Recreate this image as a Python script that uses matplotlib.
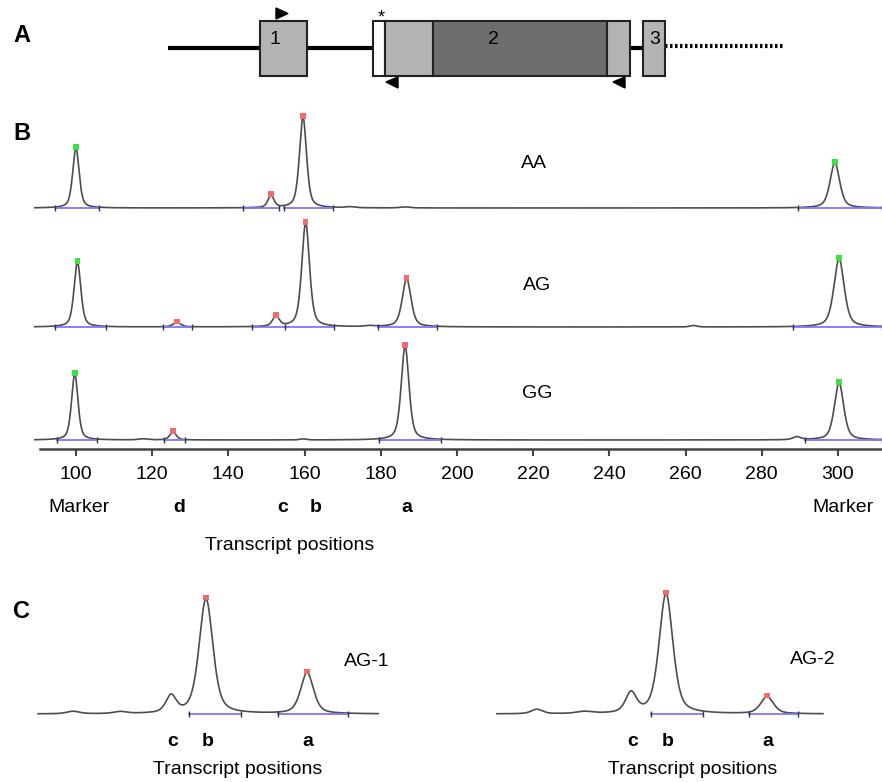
import numpy as np
import matplotlib
matplotlib.use('Agg')
import matplotlib.pyplot as plt
import matplotlib.transforms as mtrans
from matplotlib.patches import Rectangle, Polygon

plt.rcParams['font.family'] = ['Liberation Sans', 'DejaVu Sans']

W, H = 882, 782

# ---- panel A: gene model (diagram units) ----
intron_segments = [(168, 373), (630, 643)]
exon_starts = [260, 373, 385, 433, 607, 643]
exon_ends = [307, 385, 433, 607, 630, 665]
exon_fills = ['#b4b4b4', 'white', '#b4b4b4', '#6e6e6e', '#b4b4b4', '#b4b4b4']
exon_label_x = [275, 493, 655]
exon_label_text = ['1', '2', '3']
utr_dotted = (665, 783)
primer_fwd_x = [276]
primer_rev_x = [398, 625]
snp_x = 381

# ---- panel B: electropherograms, size in transcript positions ----
size_ticks = [100, 120, 140, 160, 180, 200, 220, 240, 260, 280, 300]

aa_pos = [100.0, 151.2, 159.6, 171.9, 186.4, 299.2]
aa_height = [60, 12, 91, 1, 1, 45]
aa_width = [2.0, 1.9, 2.2, 3.0, 3.0, 3.0]
aa_call = ['m', 's', 's', '', '', 'm']
aa_windows = [(94.5, 106.0), (143.8, 153.3), (154.6, 167.5), (289.5, 311.5)]

ag_pos = [100.4, 126.5, 152.5, 160.3, 177.0, 186.8, 262.0, 300.3]
ag_height = [65, 4.5, 10, 104, 1, 48, 1.5, 68]
ag_width = [2.1, 2.4, 2.1, 2.4, 3.0, 2.7, 2.0, 3.2]
ag_call = ['m', 's', 's', 's', '', 's', '', 'm']
ag_windows = [(94.5, 107.9), (122.8, 130.4), (146.2, 154.9), (154.9, 167.7),
              (179.3, 194.8), (288.2, 311.5)]

gg_pos = [99.7, 117.6, 125.5, 159.6, 186.4, 289.2, 300.3]
gg_height = [66, 1, 8, 1, 94, 3, 57]
gg_width = [2.0, 3.0, 2.0, 2.0, 2.4, 2.4, 2.9]
gg_call = ['m', '', 's', '', 's', '', 'm']
gg_windows = [(95.0, 105.5), (123.1, 128.6), (179.5, 195.8), (291.3, 311.5)]

b_letters = ['Marker', 'd', 'c', 'b', 'a', 'Marker']
b_letter_x = [100.8, 127.0, 154.3, 163.0, 186.9, 301.3]
b_letter_bold = [False, True, True, True, True, False]

# ---- panel C: two AG samples ----
c1_pos = [125.0, 137.4, 150.8, 160.0, 186.6]
c1_height = [2.5, 2, 17, 115, 41]
c1_width = [4.0, 4.0, 3.2, 4.3, 4.0]
c1_call = ['', '', '', 's', 's']
c1_windows = [(155.5, 169.2), (178.9, 197.4)]
c1_range = (115.8, 205.3)

c2_pos = [126.0, 138.5, 150.8, 160.0, 186.6]
c2_height = [4.5, 2, 20, 120, 17]
c2_width = [3.5, 5.0, 3.4, 4.3, 4.0]
c2_call = ['', '', '', 's', 's']
c2_windows = [(156.1, 169.7), (181.8, 194.7)]
c2_range = (115.5, 201.3)

c_letters = ['c', 'b', 'a']
c_letter_x = [151.3, 160.5, 186.8]

TRACE = '#4d4d4d'
BLUE = '#7878ff'
DOT = {'m': '#3fe03f', 's': '#f26a6a'}


def peaks(x, pos, height, width):
    y = np.zeros_like(x)
    for p, h, w in zip(pos, height, width):
        d = (x - p) / w
        y += h * (0.5 * np.exp(-4 * np.log(2) * d ** 2) + 0.5 / (1 + 4 * d ** 2))
    return y


def draw_trace(ax, x, base, pos, height, width, call, windows):
    y = peaks(x, pos, height, width)
    ax.plot(x, base + y, color=TRACE, lw=1.2, zorder=2)
    for a, b in windows:
        ax.plot([a, b], [base, base], color=BLUE, lw=1.3, zorder=3)
    ends = sorted(set([w for pair in windows for w in pair]))
    ax.vlines(ends, base - 3, base + 3, color='#333333', lw=1.0, zorder=4)
    for p, c in zip(pos, call):
        if c:
            top = base + peaks(np.array([p]), pos, height, width)[0]
            ax.scatter([p], [top + 1], marker='s', s=16, color=DOT[c],
                       edgecolors='none', zorder=5)


def px_axes(fig, x0, y0, x1, y1):
    return fig.add_axes([x0 / W, 1 - y1 / H, (x1 - x0) / W, (y1 - y0) / H])


def fxy(px, py):
    return px / W, 1 - py / H


fig = plt.figure(figsize=(W / 100, H / 100), dpi=100)

# panel A
axa = px_axes(fig, 0, 0, W, 100)
axa.set_xlim(0, W)
axa.set_ylim(100, 0)
axa.axis('off')
for a, b in intron_segments:
    axa.plot([a, b], [48, 48], color='black', lw=3, solid_capstyle='butt', zorder=1)
axa.plot(utr_dotted, [46, 46], color='black', lw=3, linestyle=(0, (0.6, 0.6)), zorder=1)
for s, e, f in zip(exon_starts, exon_ends, exon_fills):
    axa.add_patch(Rectangle((s, 21), e - s, 55, facecolor=f, edgecolor='#222222',
                            lw=1.5, zorder=2))
for x, t in zip(exon_label_x, exon_label_text):
    axa.text(x, 39, t, ha='center', va='center', fontsize=14, zorder=3)
for x in primer_fwd_x:
    axa.add_patch(Polygon([(x, 8), (x, 19), (x + 12, 13.5)], closed=True,
                          color='black', zorder=3))
for x in primer_rev_x:
    axa.add_patch(Polygon([(x, 77), (x, 88), (x - 12, 82)], closed=True,
                          color='black', zorder=3))
axa.text(snp_x, 18, '*', ha='center', va='center', fontsize=13)

# panel B
axb = px_axes(fig, 34, 105, W, 449)
xmin = 89.0
xmax = xmin + 848 / 3.81
axb.set_xlim(xmin, xmax)
axb.set_ylim(-9, 335)
xb = np.linspace(xmin, xmax, 4000)
draw_trace(axb, xb, 232, aa_pos, aa_height, aa_width, aa_call, aa_windows)
draw_trace(axb, xb, 113, ag_pos, ag_height, ag_width, ag_call, ag_windows)
draw_trace(axb, xb, 0, gg_pos, gg_height, gg_width, gg_call, gg_windows)
for side in ['top', 'right', 'left']:
    axb.spines[side].set_visible(False)
axb.spines['bottom'].set_color('#444444')
axb.spines['bottom'].set_linewidth(1.8)
axb.spines['bottom'].set_bounds(90.5, xmax)
axb.set_yticks([])
axb.set_xticks(size_ticks)
axb.tick_params(axis='x', length=5, width=1.5, color='#444444', labelsize=14, pad=7)

tb = mtrans.blended_transform_factory(axb.transData, fig.transFigure)
for t, x, bold in zip(b_letters, b_letter_x, b_letter_bold):
    axb.text(x, 1 - 508 / H, t, transform=tb, ha='center', va='center',
             fontsize=14, fontweight='bold' if bold else 'normal')
fig.text(*fxy(290, 546), 'Transcript positions', ha='center', va='center', fontsize=14)
fig.text(*fxy(534, 163), 'AA', ha='center', va='center', fontsize=14)
fig.text(*fxy(537, 285), 'AG', ha='center', va='center', fontsize=14)
fig.text(*fxy(537, 393), 'GG', ha='center', va='center', fontsize=14)

# panel C
for (x0, x1), rng, pos, hgt, wid, call, win, name, name_xy, title_x in [
        ((30, 390), c1_range, c1_pos, c1_height, c1_width, c1_call, c1_windows,
         'AG-1', (367, 662), 238),
        ((490, 830), c2_range, c2_pos, c2_height, c2_width, c2_call, c2_windows,
         'AG-2', (813, 660), 693)]:
    ax = px_axes(fig, x0, 585, x1, 722)
    b_px = 206 if x0 < 400 else 666
    ax.set_xlim(160 + (x0 - b_px) / 3.8, 160 + (x1 - b_px) / 3.8)
    ax.set_ylim(-8, 129)
    ax.axis('off')
    xc = np.linspace(rng[0], rng[1], 2000)
    draw_trace(ax, xc, 0, pos, hgt, wid, call, win)
    tc = mtrans.blended_transform_factory(ax.transData, fig.transFigure)
    for t, x in zip(c_letters, c_letter_x):
        ax.text(x, 1 - 742 / H, t, transform=tc, ha='center', va='center',
                fontsize=14, fontweight='bold')
    fig.text(*fxy(*name_xy), name, ha='center', va='center', fontsize=14)
    fig.text(*fxy(title_x, 769), 'Transcript positions', ha='center', va='center',
             fontsize=14)

for lab, xy in [('A', (22, 36)), ('B', (22, 133)), ('C', (22, 612))]:
    fig.text(*fxy(*xy), lab, ha='center', va='center', fontsize=17, fontweight='bold')

fig.savefig('out.png', dpi=100)
